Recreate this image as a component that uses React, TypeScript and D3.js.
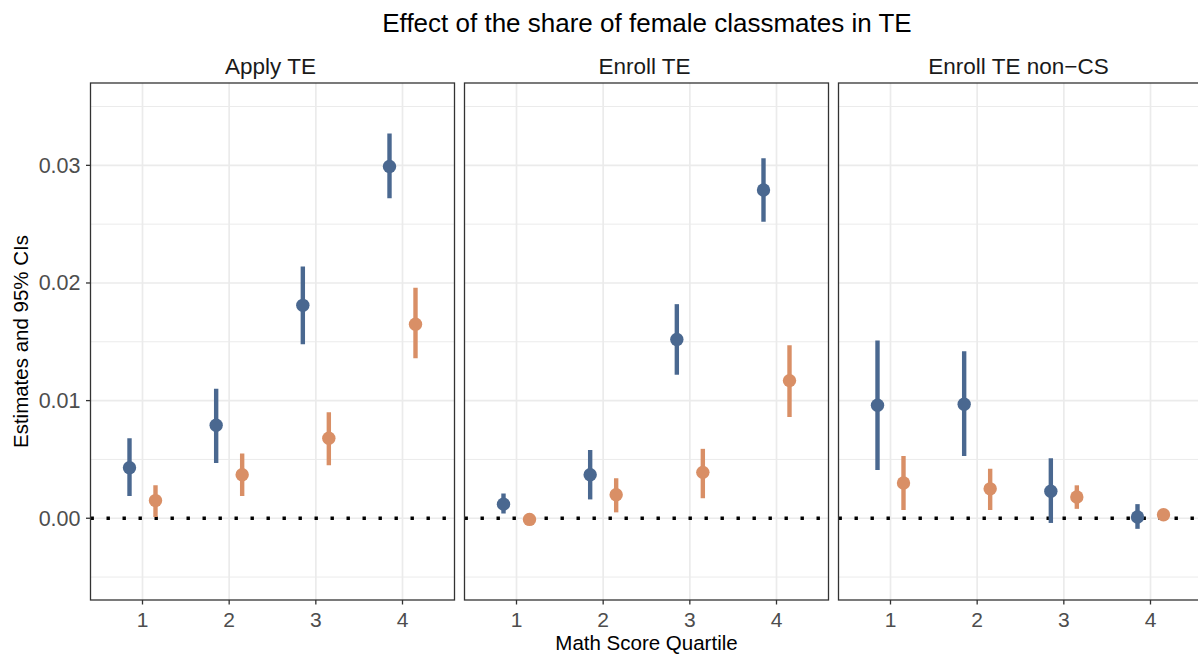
import React from "react";
import * as d3 from "d3";

const panels = ["Apply TE", "Enroll TE", "Enroll TE non\u2212CS"];
const quartiles = [1, 2, 3, 4];
const seriesNames = ["blue", "orange"];
const yTicks = [0, 0.01, 0.02, 0.03];
const yTickLabels = ["0.00", "0.01", "0.02", "0.03"];
const yMinor = [-0.005, 0.005, 0.015, 0.025, 0.035];

// estimates [panel][quartile]
const blueEst = [
  [0.0043, 0.0079, 0.0181, 0.0299],
  [0.0012, 0.0037, 0.0152, 0.0279],
  [0.0096, 0.0097, 0.0023, 0.0001],
];
const blueLo = [
  [0.0019, 0.0047, 0.0148, 0.0272],
  [0.0004, 0.0016, 0.0122, 0.0252],
  [0.0041, 0.0053, -0.0004, -0.0009],
];
const blueHi = [
  [0.0068, 0.011, 0.0214, 0.0327],
  [0.0021, 0.0058, 0.0182, 0.0306],
  [0.0151, 0.0142, 0.0051, 0.0012],
];
const orangeEst = [
  [0.0015, 0.0037, 0.0068, 0.0165],
  [-0.0001, 0.002, 0.0039, 0.0117],
  [0.003, 0.0025, 0.0018, 0.0003],
];
const orangeLo = [
  [0.0001, 0.0019, 0.0045, 0.0136],
  [-0.0005, 0.0005, 0.0017, 0.0086],
  [0.0007, 0.0007, 0.0008, 0.0002],
];
const orangeHi = [
  [0.0028, 0.0055, 0.009, 0.0196],
  [0.0004, 0.0034, 0.0059, 0.0147],
  [0.0053, 0.0042, 0.0028, 0.0005],
];

const colors: Record<string, string> = { blue: "#4a6890", orange: "#d98f66" };
const dodge: Record<string, number> = { blue: -0.15, orange: 0.15 };

const W = 1198;
const H = 656;
const top = 83;
const bottom = 600;
const panelLefts = [90.5, 464.5, 838.5];
const panelW = 364;
const FONT = "'Liberation Sans', Arial, Helvetica, sans-serif";

export default function App() {
  const y = d3.scaleLinear().domain([-0.00695, 0.037]).range([bottom, top]);
  const getData = (s: string, p: number) =>
    s === "blue"
      ? { est: blueEst[p], lo: blueLo[p], hi: blueHi[p] }
      : { est: orangeEst[p], lo: orangeLo[p], hi: orangeHi[p] };

  return (
    <svg
      width={W}
      height={H}
      style={{ position: "absolute", left: 0, top: 0, background: "#fff" }}
      fontFamily={FONT}
    >
      <defs>
        {panels.map((_, i) => (
          <clipPath id={`clip${i}`} key={i}>
            <rect x={panelLefts[i]} y={top} width={panelW} height={bottom - top} />
          </clipPath>
        ))}
      </defs>
      <rect x={0} y={0} width={W} height={H} fill="#fff" />
      <text x={647} y={31.5} textAnchor="middle" fontSize={26} fill="#000">
        Effect of the share of female classmates in TE
      </text>
      {panels.map((name, p) => {
        const x0 = panelLefts[p];
        const x = d3.scaleLinear().domain([0.4, 4.6]).range([x0, x0 + panelW]);
        return (
          <g key={p}>
            <text
              x={x0 + panelW / 2 - 2}
              y={73.5}
              textAnchor="middle"
              fontSize={22.5}
              fill="#1a1a1a"
            >
              {name}
            </text>
            <g clipPath={`url(#clip${p})`}>
              {yMinor.map((v) => (
                <line
                  key={"mi" + v}
                  x1={x0}
                  x2={x0 + panelW}
                  y1={y(v)}
                  y2={y(v)}
                  stroke="#ebebeb"
                  strokeWidth={1}
                />
              ))}
              {yTicks.map((v) => (
                <line
                  key={"ma" + v}
                  x1={x0}
                  x2={x0 + panelW}
                  y1={y(v)}
                  y2={y(v)}
                  stroke="#ebebeb"
                  strokeWidth={1.7}
                />
              ))}
              {quartiles.map((q) => (
                <line
                  key={"vx" + q}
                  x1={x(q)}
                  x2={x(q)}
                  y1={top}
                  y2={bottom}
                  stroke="#ebebeb"
                  strokeWidth={1.7}
                />
              ))}
              <line
                x1={x0}
                x2={x0 + panelW}
                y1={y(0)}
                y2={y(0)}
                stroke="#000"
                strokeWidth={3.4}
                strokeDasharray="3.4,12.6"
              />
              {seriesNames.map((s) => {
                const d = getData(s, p);
                return (
                  <g key={s}>
                    {quartiles.map((q, i) => (
                      <line
                        key={"ci" + q}
                        x1={x(q + dodge[s])}
                        x2={x(q + dodge[s])}
                        y1={y(d.lo[i])}
                        y2={y(d.hi[i])}
                        stroke={colors[s]}
                        strokeWidth={4.4}
                      />
                    ))}
                    {quartiles.map((q, i) => (
                      <circle
                        key={"pt" + q}
                        cx={x(q + dodge[s])}
                        cy={y(d.est[i])}
                        r={6.7}
                        fill={colors[s]}
                      />
                    ))}
                  </g>
                );
              })}
            </g>
            <rect
              x={x0}
              y={top}
              width={panelW}
              height={bottom - top}
              fill="none"
              stroke="#333333"
              strokeWidth={1.3}
            />
            {quartiles.map((q) => (
              <g key={"xt" + q}>
                <line
                  x1={x(q)}
                  x2={x(q)}
                  y1={bottom}
                  y2={bottom + 4.5}
                  stroke="#333333"
                  strokeWidth={1.3}
                />
                <text
                  x={x(q)}
                  y={626.7}
                  textAnchor="middle"
                  fontSize={21}
                  fill="#4d4d4d"
                >
                  {q}
                </text>
              </g>
            ))}
          </g>
        );
      })}
      {yTicks.map((v, i) => (
        <g key={"yt" + v}>
          <line
            x1={panelLefts[0] - 4.5}
            x2={panelLefts[0]}
            y1={y(v)}
            y2={y(v)}
            stroke="#333333"
            strokeWidth={1.3}
          />
          <text
            x={80.5}
            y={y(v) + 7.5}
            textAnchor="end"
            fontSize={21.5}
            fill="#4d4d4d"
          >
            {yTickLabels[i]}
          </text>
        </g>
      ))}
      <text x={646.5} y={650} textAnchor="middle" fontSize={20.5} fill="#000">
        Math Score Quartile
      </text>
      <text
        transform={`translate(28.3, ${(top + bottom) / 2}) rotate(-90)`}
        textAnchor="middle"
        fontSize={20.5}
        fill="#000"
      >
        Estimates and 95% CIs
      </text>
    </svg>
  );
}
